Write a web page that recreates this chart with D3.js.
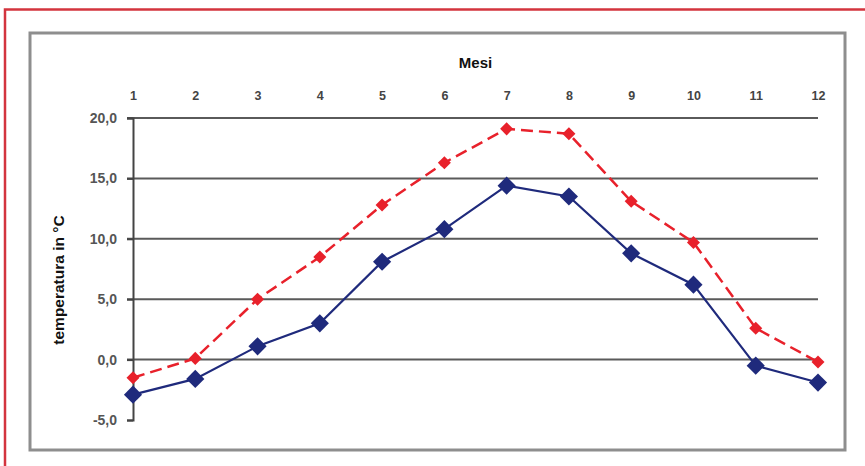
<!DOCTYPE html>
<html>
<head>
<meta charset="utf-8">
<script src="https://cdn.jsdelivr.net/npm/d3@7"></script>
<style>
  html, body { margin: 0; padding: 0; background: #fff; }
  svg { display: block; }
  text { font-family: Arial, "Liberation Sans", sans-serif; }
</style>
</head>
<body>
<svg id="chart" width="865" height="466"></svg>
<script>
const months = [1, 2, 3, 4, 5, 6, 7, 8, 9, 10, 11, 12];
const seriesBlue = [-2.9, -1.6, 1.1, 3.0, 8.1, 10.8, 14.4, 13.5, 8.8, 6.2, -0.5, -1.9];
const seriesRed = [-1.5, 0.1, 5.0, 8.5, 12.8, 16.3, 19.1, 18.7, 13.1, 9.7, 2.6, -0.2];
const yTicks = [-5, 0, 5, 10, 15, 20];
const xTitle = "Mesi";
const yTitle = "temperatura in °C";

const svg = d3.select("#chart");

// outer red frame (open on right and bottom)
svg.append("path")
  .attr("d", "M5,470 L5,9.5 L870,9.5")
  .attr("fill", "none").attr("stroke", "#d3343e").attr("stroke-width", 2.5);

// chart area grey frame
svg.append("rect")
  .attr("x", 30).attr("y", 33).attr("width", 815).attr("height", 417)
  .attr("fill", "#fff").attr("stroke", "#8e8e8e").attr("stroke-width", 3);

const x = d3.scaleLinear().domain([1, 12]).range([133, 818]);
const y = d3.scaleLinear().domain([-5, 20]).range([420, 118]);

// horizontal gridlines
svg.append("g").selectAll("line")
  .data(yTicks.filter(d => d > -5))
  .join("line")
  .attr("x1", 127).attr("x2", x(12))
  .attr("y1", d => y(d)).attr("y2", d => y(d))
  .attr("stroke", "#5a5a5a").attr("stroke-width", 2);

// y axis
const yAxis = svg.append("g")
  .attr("transform", `translate(${x(1)},0)`)
  .call(d3.axisLeft(y).tickValues(yTicks).tickSize(6).tickPadding(10)
    .tickFormat(d => d.toFixed(1).replace(".", ",")));
yAxis.select(".domain").attr("stroke", "#444").attr("stroke-width", 2);
yAxis.selectAll(".tick line").attr("stroke", "#444").attr("stroke-width", 2);
yAxis.selectAll(".tick text").attr("fill", "#555").attr("font-size", 14)
  .attr("font-weight", "bold");

// x axis on top (labels only)
const xAxis = svg.append("g")
  .attr("transform", `translate(0,100)`)
  .call(d3.axisTop(x).tickValues(months).tickSize(0).tickPadding(0)
    .tickFormat(d3.format("d")));
xAxis.select(".domain").remove();
xAxis.selectAll(".tick text").attr("fill", "#444").attr("font-size", 12.5)
  .attr("font-weight", "bold");

// titles
svg.append("text").attr("x", (x(1) + x(12)) / 2).attr("y", 68)
  .attr("text-anchor", "middle").attr("font-size", 15).attr("font-weight", "bold")
  .attr("fill", "#111").text(xTitle);
svg.append("text")
  .attr("transform", "translate(64,280) rotate(-90)")
  .attr("text-anchor", "middle").attr("font-size", 15.5).attr("font-weight", "bold")
  .attr("fill", "#111").text(yTitle);

const line = d3.line().x((d, i) => x(months[i])).y(d => y(d));

// red dashed series
svg.append("path").datum(seriesRed)
  .attr("d", line).attr("fill", "none")
  .attr("stroke", "#e8212b").attr("stroke-width", 2.5)
  .attr("stroke-dasharray", "12,6");
svg.append("g").selectAll("path")
  .data(seriesRed).join("path")
  .attr("d", d3.symbol(d3.symbolSquare, 85))
  .attr("transform", (d, i) => `translate(${x(months[i])},${y(d)}) rotate(45)`)
  .attr("fill", "#e8212b");

// blue solid series
svg.append("path").datum(seriesBlue)
  .attr("d", line).attr("fill", "none")
  .attr("stroke", "#1f2a7c").attr("stroke-width", 2.2);
svg.append("g").selectAll("path")
  .data(seriesBlue).join("path")
  .attr("d", d3.symbol(d3.symbolSquare, 165))
  .attr("transform", (d, i) => `translate(${x(months[i])},${y(d)}) rotate(45)`)
  .attr("fill", "#1f2a7c");
</script>
</body>
</html>
